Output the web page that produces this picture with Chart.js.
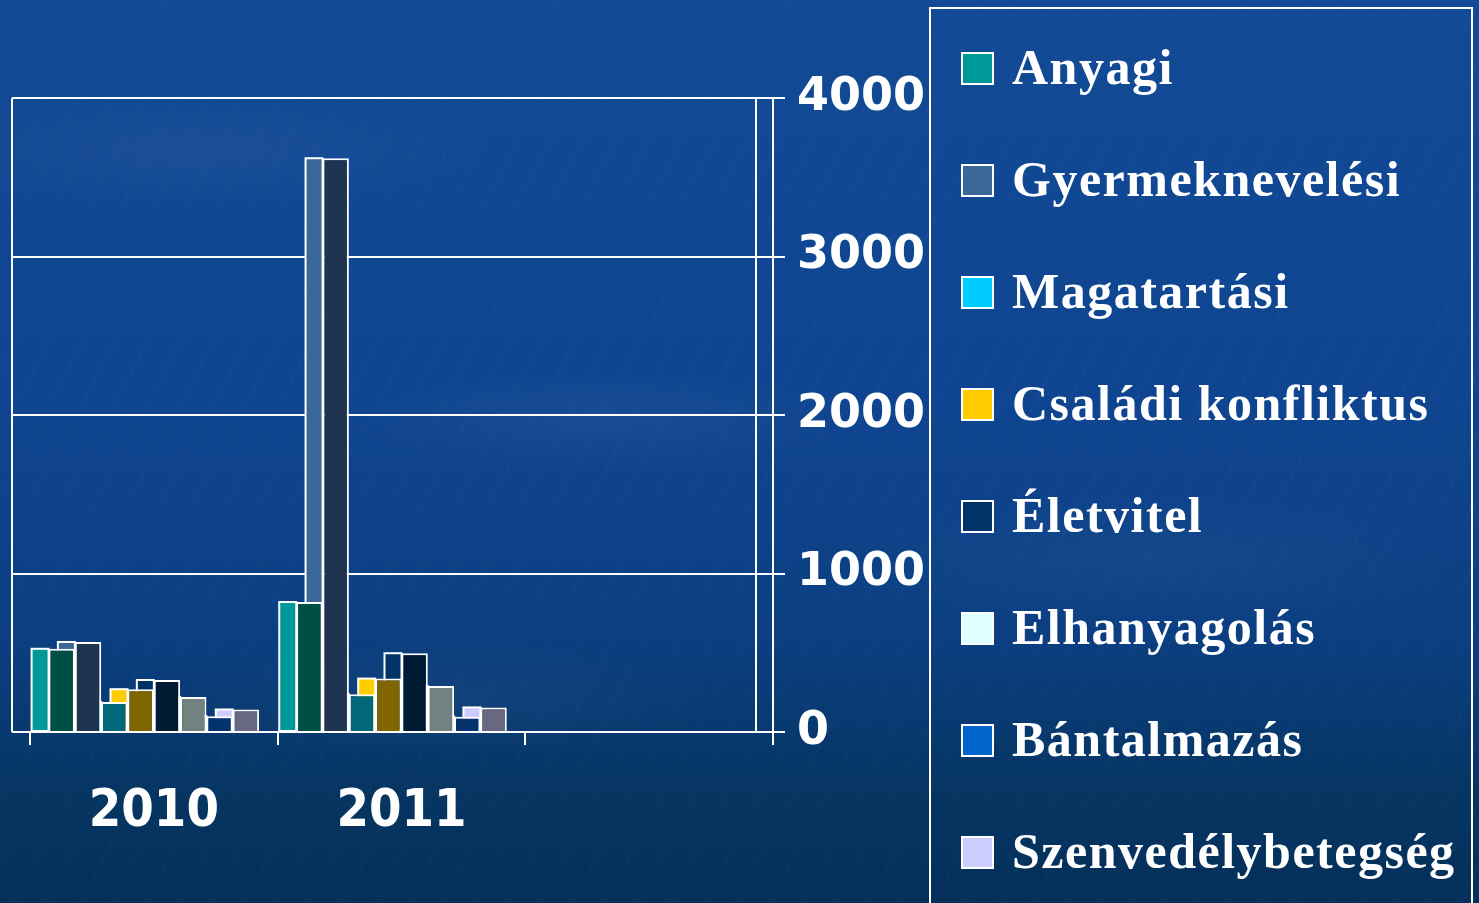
<!DOCTYPE html>
<html>
<head>
<meta charset="utf-8">
<script src="https://cdn.jsdelivr.net/npm/chart.js"></script>
<style>
html, body { margin: 0; padding: 0; width: 1479px; height: 903px; overflow: hidden; }
body {
  position: relative;
  background:
    radial-gradient(ellipse 300px 60px at 200px 150px, rgba(255,255,255,0.04), rgba(0,0,0,0)),
    radial-gradient(ellipse 260px 50px at 600px 420px, rgba(255,255,255,0.04), rgba(0,0,0,0)),
    radial-gradient(ellipse 320px 70px at 1150px 560px, rgba(255,255,255,0.035), rgba(0,0,0,0)),
    radial-gradient(ellipse 280px 60px at 450px 700px, rgba(255,255,255,0.035), rgba(0,0,0,0)),
    repeating-linear-gradient(118deg, rgba(255,255,255,0.015) 0px, rgba(255,255,255,0.015) 2px, rgba(0,0,0,0) 2px, rgba(0,0,0,0) 29px),
    linear-gradient(to bottom, #124a95 0%, #0f4590 45%, #0b3f82 70%, #063562 88%, #04305a 100%);
}
#wrap { position: absolute; left: 0; top: 0; width: 930px; height: 903px; }
#legendBox {
  position: absolute; left: 929px; top: 7px; width: 544px; height: 1000px;
  border: 2px solid #fff; box-sizing: border-box;
}
.lbox { position: absolute; left: 961px; width: 33px; height: 33px; border: 2px solid #fff; box-sizing: border-box; }
.ltext {
  position: absolute; left: 1012px; height: 60px; line-height: 60px; white-space: nowrap;
  font-family: "Liberation Serif", "DejaVu Serif", serif; font-weight: bold; font-size: 50px;
  letter-spacing: 1.5px; color: #fff;
}
</style>
</head>
<body>
<div id="wrap"><canvas id="chart"></canvas></div>
<div id="legendBox"></div>
<div id="legend"></div>
<script>
// categories (third one is an empty slot in the original)
var categories = ["2010", "2011", ""];

var seriesNames = ["Anyagi", "Gyermeknevelési", "Magatartási", "Családi konfliktus",
  "Életvitel", "Elhanyagolás", "Bántalmazás", "Szenvedélybetegség"];

// values per series
var anyagi = [525, 820, null];
var gyermeknevelesi = [568, 3620, null];
var magatartasi = [190, 238, null];
var csaladi = [270, 337, null];
var eletvitel = [328, 497, null];
var elhanyagolas = [221, 290, null];
var bantalmazas = [100, 97, null];
var szenvedely = [142, 155, null];

var yTicks = [0, 1000, 2000, 3000, 4000];

// legend / front face colours and darker side colours
var frontColors = ["#009999", "#3a6898", "#00ccff", "#ffcc00", "#003366", "#e0ffff", "#0066cc", "#ccccff"];
var sideColors = ["#004f47", "#1e3450", "#006878", "#806600", "#001a33", "#728280", "#03336a", "#686882"];

var values = [anyagi, gyermeknevelesi, magatartasi, csaladi, eletvitel, elhanyagolas, bantalmazas, szenvedely];

var datasets = seriesNames.map(function (name, i) {
  return {
    label: name,
    data: values[i],
    backgroundColor: sideColors[i],
    borderColor: "#ffffff",
    borderWidth: 2,
    barPercentage: 1,
    categoryPercentage: 0.85
  };
});

// back wall: gridlines and frame, then the lighter front faces behind each bar
var wallPlugin = {
  id: "wall",
  beforeDatasetsDraw: function (chart) {
    var ctx = chart.ctx;
    var y = chart.scales.y;
    var area = chart.chartArea;
    var wallLeft = 12, wallRight = 756;
    ctx.save();
    ctx.strokeStyle = "#ffffff";
    ctx.lineWidth = 2;
    yTicks.forEach(function (v) {
      var py = Math.round(y.getPixelForValue(v));
      ctx.beginPath();
      ctx.moveTo(wallLeft, py);
      ctx.lineTo(area.right, py);
      ctx.stroke();
    });
    ctx.beginPath();
    ctx.moveTo(wallLeft, area.top);
    ctx.lineTo(wallLeft, area.bottom);
    ctx.moveTo(wallRight, area.top);
    ctx.lineTo(wallRight, area.bottom);
    ctx.stroke();

    var depth = 17;
    chart.data.datasets.forEach(function (ds, i) {
      var meta = chart.getDatasetMeta(i);
      meta.data.forEach(function (bar, j) {
        if (ds.data[j] == null) return;
        var left = bar.x - bar.width / 2;
        ctx.fillStyle = frontColors[i];
        ctx.fillRect(left - depth, bar.y, depth, bar.base - bar.y);
        ctx.strokeRect(left - depth, bar.y, depth, bar.base - bar.y);
      });
    });
    ctx.restore();
  }
};

new Chart(document.getElementById("chart"), {
  type: "bar",
  data: { labels: categories, datasets: datasets },
  plugins: [wallPlugin],
  options: {
    responsive: true,
    maintainAspectRatio: false,
    animation: false,
    layout: { padding: { left: 30, top: 98, right: 0, bottom: 0 } },
    plugins: { legend: { display: false }, title: { display: false } },
    scales: {
      x: {
        grid: { display: true, drawOnChartArea: false, offset: true, color: "#ffffff", lineWidth: 2, tickLength: 13 },
        border: { display: true, color: "#ffffff", width: 2 },
        ticks: {
          color: "#ffffff",
          padding: 36,
          font: { family: "'DejaVu Sans Condensed', 'DejaVu Sans', sans-serif", weight: "bold", size: 52 }
        },
        afterFit: function (scale) { scale.height = 171; }
      },
      y: {
        position: "right",
        min: 0,
        max: 4000,
        afterBuildTicks: function (scale) {
          scale.ticks = yTicks.map(function (v) { return { value: v }; });
        },
        grid: { drawOnChartArea: false, color: "#ffffff", lineWidth: 2, tickLength: 12 },
        border: { display: true, color: "#ffffff", width: 2 },
        ticks: {
          color: "#ffffff",
          padding: 12,
          callback: function (v) { return String(v); },
          font: { family: "'DejaVu Sans', sans-serif", weight: "bold", size: 46 }
        },
        afterFit: function (scale) { scale.width = 157; }
      }
    }
  }
});

// legend
var legend = document.getElementById("legend");
seriesNames.forEach(function (name, i) {
  var cy = 68 + 112 * i;
  var box = document.createElement("div");
  box.className = "lbox";
  box.style.top = (cy - 16) + "px";
  box.style.background = frontColors[i];
  legend.appendChild(box);
  var t = document.createElement("div");
  t.className = "ltext";
  t.style.top = (cy - 31) + "px";
  t.textContent = name;
  legend.appendChild(t);
});
</script>
</body>
</html>
